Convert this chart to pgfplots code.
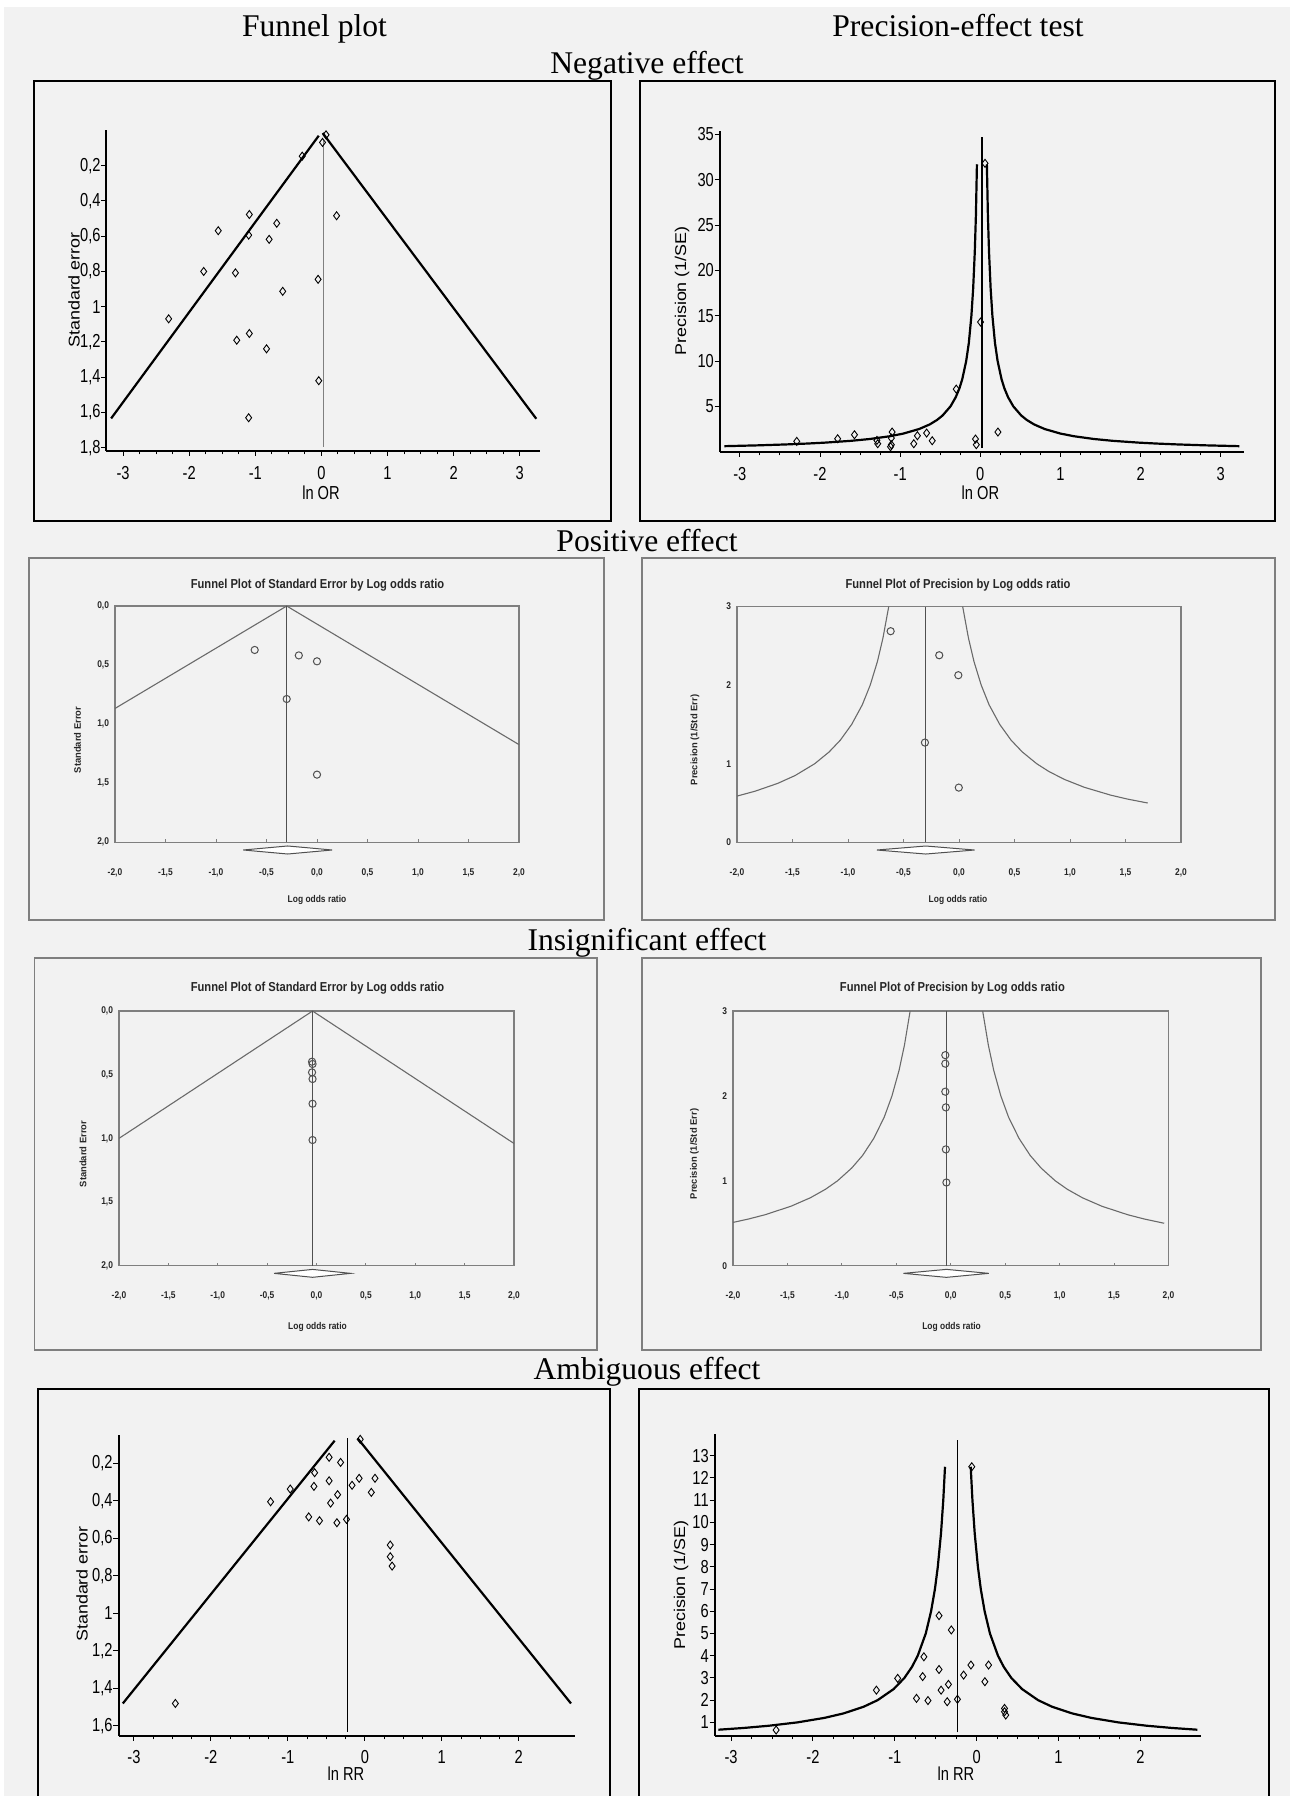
\documentclass[border=0pt]{standalone}
\usepackage{fontspec}
\setmainfont{Liberation Serif}
\newfontfamily\tickfont[FakeStretch=0.78]{Liberation Sans}
\newfontfamily\ylabfont[FakeStretch=1.15]{Liberation Sans}
\newfontfamily\cmafont[FakeStretch=0.86]{Liberation Sans}
\newfontfamily\cmaylfont{Liberation Sans}
\usepackage{pgfplots}
\pgfplotsset{compat=1.18}
\definecolor{bg}{HTML}{F2F2F2}
\definecolor{cmagray}{HTML}{7F7F7F}
\definecolor{cmadark}{HTML}{505050}
\definecolor{cmaline}{HTML}{6A6A6A}
\pgfplotsset{
  stata/.style={
    scale only axis, anchor=center, clip=false,
    axis lines=left,
    axis line style={line width=1pt,-},
    tick align=outside,
    major tick length=2.6pt, minor tick length=1.8pt,
    every tick/.append style={black, line width=0.5pt},
    minor x tick num=3,
    ticklabel style={font=\tickfont\fontsize{9.4}{10}\selectfont, inner sep=0pt, text=black},
    xticklabel style={anchor=base},
    yticklabel style={anchor=east, xshift=-0.2pt},
  },
  cma/.style={
    scale only axis, anchor=center, clip=false,
    axis line style={cmagray, line width=0.6pt},
    tick align=inside, tick pos=left,
    major tick length=1.6pt,
    every tick/.append style={cmagray, line width=0.5pt},
    ytick style={draw=none},
    ticklabel style={font=\cmafont\bfseries\fontsize{4.9}{5.5}\selectfont, inner sep=0pt, text=black!85},
    xticklabel style={anchor=base, yshift=-16.5pt},
    yticklabel style={anchor=east, xshift=-2.8pt},
    xmin=-2, xmax=2, xtick={-2,-1.5,-1,-0.5,0,0.5,1,1.5,2},
    xticklabels={{-2,0},{-1,5},{-1,0},{-0,5},{0,0},{0,5},{1,0},{1,5},{2,0}},
  },
  dmark/.style={only marks, mark=diamond, mark size=2pt, mark options={solid, draw=black, fill=none, line width=0.45pt}},
  omark/.style={only marks, mark=o, mark size=1.8pt, mark options={solid, draw=cmadark, fill=none, line width=0.5pt}},
}
\begin{document}
\begin{tikzpicture}
\begin{scope}[x=0.5pt,y=-0.5pt]
\path[use as bounding box] (0,0) rectangle (1290,1796);
\fill[white] (0,0) rectangle (1290,1796);
\fill[bg] (4,7) rectangle (1290,1796);
\draw[line width=1pt] (34,81) rectangle (610.5,521);
\draw[line width=1pt] (640,81) rectangle (1275,521);
\draw[cmagray, line width=0.6pt] (29,558) rectangle (604,920);
\draw[cmagray, line width=0.6pt] (642,558) rectangle (1275,920);
\draw[cmagray, line width=0.6pt] (34.5,958) rectangle (597,1350);
\draw[cmagray, line width=0.6pt] (642,958) rectangle (1261,1350);
\draw[line width=1pt] (38,1800) -- (38,1389) -- (609.5,1389) -- (609.5,1800);
\draw[line width=1pt] (639,1800) -- (639,1389) -- (1269,1389) -- (1269,1800);
\end{scope}

% ---------- Panel 1: Negative, funnel plot ----------
\begin{axis}[stata, at={(161.525pt,-145.275pt)}, width=216.55pt, height=160.15pt,
  xmin=-3.25, xmax=3.30, ymin=-1.817, ymax=0,
  xtick={-3,-2,-1,0,1,2,3}, xticklabels={-3,-2,-1,0,1,2,3},
  xticklabel style={yshift=-11.8pt},
  ytick={-1.8,-1.6,-1.4,-1.2,-1,-0.8,-0.6,-0.4,-0.2},
  yticklabels={{1,8},{1,6},{1,4},{1,2},1,{0,8},{0,6},{0,4},{0,2}}]
\addplot[gray, line width=0.6pt] coordinates {(0.034,-0.055) (0.034,-1.795)};
\addplot[black, line width=1.1pt] coordinates {(-3.18,-1.634) (-0.04,-0.03)};
\addplot[black, line width=1.1pt] coordinates {(0.02,-0.015) (3.25,-1.636)};
\addplot[dmark] coordinates {
(0.07,-0.025) (0.017,-0.068) (-0.29,-0.146) (-1.09,-0.477) (0.23,-0.484)
(-0.675,-0.527) (-1.56,-0.569) (-1.10,-0.594) (-0.79,-0.618) (-1.78,-0.80)
(-1.30,-0.808) (-0.05,-0.845) (-0.585,-0.913) (-2.31,-1.069) (-1.09,-1.152)
(-1.28,-1.19) (-0.83,-1.239) (-0.04,-1.42) (-1.10,-1.63)};
\end{axis}

% ---------- Panel 2: Negative, precision ----------
\begin{axis}[stata, at={(490.95pt,-145.6pt)}, width=262.1pt, height=160.5pt,
  xmin=-3.25, xmax=3.29, ymin=0, ymax=35.4,
  xtick={-3,-2,-1,0,1,2,3}, xticklabels={-3,-2,-1,0,1,2,3},
  xticklabel style={yshift=-11.8pt},
  ytick={5,10,15,20,25,30,35}, yticklabels={5,10,15,20,25,30,35}]
\addplot[black, line width=0.6pt] coordinates {(0.02,0.4) (0.02,34.7)};
\addplot[black, line width=1.1pt] coordinates {
(-3.193,0.61) (-2.78,0.7) (-2.43,0.8) (-2.158,0.9) (-1.94,1.0) (-1.613,1.2) (-1.38,1.4)
(-1.133,1.7) (-0.96,2) (-0.764,2.5) (-0.633,3) (-0.54,3.5) (-0.47,4) (-0.372,5) (-0.307,6)
(-0.26,7) (-0.225,8) (-0.176,10) (-0.143,12) (-0.111,15) (-0.089,18) (-0.069,22) (-0.055,26) (-0.042,31.7)};
\addplot[black, line width=1.1pt] coordinates {
(3.233,0.61) (2.82,0.7) (2.47,0.8) (2.198,0.9) (1.98,1.0) (1.653,1.2) (1.42,1.4)
(1.173,1.7) (1.0,2) (0.804,2.5) (0.673,3) (0.58,3.5) (0.51,4) (0.412,5) (0.347,6)
(0.30,7) (0.265,8) (0.216,10) (0.183,12) (0.151,15) (0.129,18) (0.109,22) (0.095,26) (0.082,31.7)};
\addplot[dmark] coordinates {
(0.059,31.8) (0.003,14.3) (-0.30,6.9) (-2.29,1.14) (-1.78,1.43) (-1.57,1.87) (-1.29,1.25)
(-1.28,0.88) (-1.10,2.17) (-1.11,1.5) (-1.11,0.77) (-1.12,0.55) (-0.83,0.88) (-0.785,1.76)
(-0.67,2.06) (-0.60,1.21) (-0.06,1.4) (-0.05,0.77) (0.22,2.17)};
\end{axis}

% ---------- Panel 3: Positive, funnel SE ----------
\begin{axis}[cma, at={(158.5pt,-362.075pt)}, width=202pt, height=118.15pt,
  ymin=-2, ymax=0, ytick={-2,-1.5,-1,-0.5,0},
  yticklabels={{2,0},{1,5},{1,0},{0,5},{0,0}}]
\addplot[cmaline, line width=0.55pt] coordinates {(-2,-0.867) (-0.3,0) (2,-1.173)};
\addplot[cmadark, line width=0.6pt] coordinates {(-0.3,0) (-0.3,-2)};
\addplot[draw=cmadark, fill=white, line width=0.5pt] coordinates {(-0.73,-2.065) (-0.29,-2.031) (0.15,-2.065) (-0.29,-2.099) (-0.73,-2.065)};
\addplot[omark] coordinates {(-0.617,-0.372) (-0.18,-0.418) (0.0,-0.468) (-0.30,-0.787) (0.0,-1.427)};
\end{axis}

% ---------- Panel 4: Positive, precision ----------
\begin{axis}[cma, at={(479.5pt,-362.2pt)}, width=222pt, height=117.9pt,
  ymin=0, ymax=3, ytick={0,1,2,3}, yticklabels={0,1,2,3}]
\addplot[cmadark, line width=0.6pt] coordinates {(-0.3,0) (-0.3,3)};
\addplot[cmaline, line width=0.55pt] coordinates {
(-2.0,0.588) (-1.838,0.65) (-1.633,0.75) (-1.476,0.85) (-1.3,1.0) (-1.17,1.15) (-1.069,1.3)
(-0.967,1.5) (-0.871,1.75) (-0.8,2.0) (-0.735,2.3) (-0.685,2.6) (-0.633,3.0)};
\addplot[cmaline, line width=0.55pt] coordinates {
(1.7,0.5) (1.518,0.55) (1.367,0.6) (1.129,0.7) (0.95,0.8) (0.811,0.9) (0.7,1.0) (0.57,1.15)
(0.469,1.3) (0.367,1.5) (0.271,1.75) (0.2,2.0) (0.135,2.3) (0.085,2.6) (0.033,3.0)};
\addplot[draw=cmadark, fill=white, line width=0.5pt] coordinates {(-0.74,-0.098) (-0.30,-0.047) (0.14,-0.098) (-0.30,-0.149) (-0.74,-0.098)};
\addplot[omark] coordinates {(-0.616,2.686) (-0.178,2.38) (-0.006,2.126) (-0.307,1.269) (-0.002,0.696)};
\end{axis}

% ---------- Panel 5: Insignificant, funnel SE ----------
\begin{axis}[cma, at={(158.25pt,-569.175pt)}, width=197.5pt, height=127.35pt,
  ymin=-2, ymax=0, ytick={-2,-1.5,-1,-0.5,0},
  yticklabels={{2,0},{1,5},{1,0},{0,5},{0,0}}]
\addplot[cmaline, line width=0.55pt] coordinates {(-2,-1.0) (-0.04,0) (2,-1.04)};
\addplot[cmadark, line width=0.6pt] coordinates {(-0.04,0) (-0.04,-2)};
\addplot[draw=cmadark, fill=white, line width=0.5pt] coordinates {(-0.43,-2.06) (-0.04,-2.029) (0.345,-2.06) (-0.04,-2.091) (-0.43,-2.06)};
\addplot[omark] coordinates {(-0.045,-0.398) (-0.04,-0.416) (-0.045,-0.482) (-0.04,-0.534) (-0.04,-0.728) (-0.04,-1.013)};
\end{axis}

% ---------- Panel 6: Insignificant, precision ----------
\begin{axis}[cma, at={(475.375pt,-569.175pt)}, width=217.75pt, height=127.35pt,
  ymin=0, ymax=3, ytick={0,1,2,3}, yticklabels={0,1,2,3}]
\addplot[cmadark, line width=0.6pt] coordinates {(-0.04,0) (-0.04,3)};
\addplot[cmaline, line width=0.55pt] coordinates {
(-2.0,0.51) (-1.858,0.55) (-1.707,0.6) (-1.469,0.7) (-1.29,0.8) (-1.151,0.9) (-1.04,1.0)
(-0.91,1.15) (-0.809,1.3) (-0.707,1.5) (-0.611,1.75) (-0.54,2.0) (-0.475,2.3) (-0.425,2.6) (-0.373,3.0)};
\addplot[cmaline, line width=0.55pt] coordinates {
(1.96,0.5) (1.778,0.55) (1.627,0.6) (1.389,0.7) (1.21,0.8) (1.071,0.9) (0.96,1.0) (0.83,1.15)
(0.729,1.3) (0.627,1.5) (0.531,1.75) (0.46,2.0) (0.395,2.3) (0.345,2.6) (0.293,3.0)};
\addplot[draw=cmadark, fill=white, line width=0.5pt] coordinates {(-0.434,-0.09) (-0.04,-0.043) (0.349,-0.09) (-0.04,-0.137) (-0.434,-0.09)};
\addplot[omark] coordinates {(-0.05,2.48) (-0.05,2.38) (-0.05,2.05) (-0.045,1.865) (-0.045,1.37) (-0.04,0.98)};
\end{axis}

% ---------- Panel 7: Ambiguous, funnel ----------
\begin{axis}[stata, at={(173.375pt,-792.675pt)}, width=228.25pt, height=150.35pt,
  xmin=-3.2, xmax=2.73, ymin=-1.653, ymax=-0.049,
  xtick={-3,-2,-1,0,1,2}, xticklabels={-3,-2,-1,0,1,2},
  xticklabel style={yshift=-11.2pt},
  ytick={-1.6,-1.4,-1.2,-1,-0.8,-0.6,-0.4,-0.2},
  yticklabels={{1,6},{1,4},{1,2},1,{0,8},{0,6},{0,4},{0,2}}]
\addplot[black, line width=0.6pt] coordinates {(-0.228,-0.067) (-0.228,-1.632)};
\addplot[black, line width=1.1pt] coordinates {(-3.144,-1.481) (-0.392,-0.079)};
\addplot[black, line width=1.1pt] coordinates {(-0.093,-0.067) (2.678,-1.481)};
\addplot[dmark] coordinates {
(-0.06,-0.072) (-0.464,-0.168) (-0.315,-0.195) (-0.652,-0.25) (-0.464,-0.293) (-0.074,-0.28)
(0.132,-0.28) (-0.969,-0.337) (-0.661,-0.323) (-0.166,-0.317) (-0.354,-0.367) (0.084,-0.355)
(-1.224,-0.405) (-0.445,-0.412) (-0.729,-0.486) (-0.589,-0.506) (-0.363,-0.517) (-0.238,-0.499)
(0.33,-0.636) (0.33,-0.698) (0.354,-0.748) (-2.461,-1.481)};
\end{axis}

% ---------- Panel 8: Ambiguous, precision ----------
\begin{axis}[stata, at={(478.825pt,-792.5pt)}, width=242.95pt, height=150.7pt,
  xmin=-3.2, xmax=2.735, ymin=0.4, ymax=13.96,
  xtick={-3,-2,-1,0,1,2}, xticklabels={-3,-2,-1,0,1,2},
  xticklabel style={yshift=-11.2pt},
  ytick={1,2,3,4,5,6,7,8,9,10,11,12,13}, yticklabels={1,2,3,4,5,6,7,8,9,10,11,12,13}]
\addplot[black, line width=0.6pt] coordinates {(-0.235,0.55) (-0.235,13.7)};
\addplot[black, line width=1.1pt] coordinates {
(-3.155,0.67) (-2.843,0.75) (-2.536,0.85) (-2.19,1.0) (-1.863,1.2) (-1.63,1.4) (-1.383,1.7)
(-1.21,2.0) (-1.014,2.5) (-0.883,3.0) (-0.79,3.5) (-0.72,4.0) (-0.622,5.0) (-0.557,6.0)
(-0.51,7.0) (-0.475,8.0) (-0.436,9.5) (-0.408,11) (-0.387,12.5)};
\addplot[black, line width=1.1pt] coordinates {
(2.695,0.67) (2.383,0.75) (2.076,0.85) (1.73,1.0) (1.403,1.2) (1.17,1.4) (0.923,1.7)
(0.75,2.0) (0.554,2.5) (0.423,3.0) (0.33,3.5) (0.26,4.0) (0.162,5.0) (0.097,6.0)
(0.05,7.0) (0.015,8.0) (-0.024,9.5) (-0.052,11) (-0.073,12.5)};
\addplot[dmark] coordinates {
(-0.06,12.5) (-0.46,5.80) (-0.31,5.16) (-0.645,3.95) (-0.46,3.38) (-0.07,3.58) (0.145,3.58)
(-0.965,2.98) (-0.66,3.06) (-0.16,3.13) (-0.345,2.71) (0.10,2.83) (-1.225,2.45) (-0.435,2.45)
(-0.735,2.08) (-0.595,1.98) (-0.36,1.93) (-0.235,2.04) (0.34,1.63) (0.34,1.48) (0.355,1.33)
(-2.45,0.655)};
\end{axis}

\begin{scope}[x=0.5pt,y=-0.5pt]
\begin{scope}[font=\fontsize{15.8}{18}\selectfont]
\node[anchor=base] at (314.5,36) {Funnel plot};
\node[anchor=base] at (958,36) {Precision-effect test};
\node[anchor=base] at (647,73.5) {Negative effect};
\node[anchor=base] at (647,551) {Positive effect};
\node[anchor=base] at (647,950) {Insignificant effect};
\node[anchor=base] at (647,1379) {Ambiguous effect};
\end{scope}
\begin{scope}[font=\ylabfont\fontsize{7.8}{9}\selectfont]
\node[rotate=90] at (74,290) {Standard error};
\node[rotate=90] at (682,291) {Precision (1/SE)};
\node[rotate=90] at (82,1584) {Standard error};
\node[rotate=90] at (681,1585) {Precision (1/SE)};
\end{scope}
\begin{scope}[font=\tickfont\fontsize{9.4}{10}\selectfont]
\node[anchor=base] at (321,499) {ln OR};
\node[anchor=base] at (980.4,499) {ln OR};
\node[anchor=base] at (346,1780) {ln RR};
\node[anchor=base] at (956,1780) {ln RR};
\end{scope}
\begin{scope}[font=\cmafont\bfseries\fontsize{6.5}{7}\selectfont, text=black!85]
\node[anchor=base] at (317.5,588) {Funnel Plot of Standard Error by Log odds ratio};
\node[anchor=base] at (958,588) {Funnel Plot of Precision by Log odds ratio};
\node[anchor=base] at (317.5,991.7) {Funnel Plot of Standard Error by Log odds ratio};
\node[anchor=base] at (952.4,991.7) {Funnel Plot of Precision by Log odds ratio};
\end{scope}
\begin{scope}[font=\cmafont\bfseries\fontsize{4.9}{5.5}\selectfont, text=black!85]
\node[anchor=base] at (317,902) {Log odds ratio};
\node[anchor=base] at (958,902) {Log odds ratio};
\node[anchor=base] at (317.5,1329.7) {Log odds ratio};
\node[anchor=base] at (951.6,1329.7) {Log odds ratio};
\end{scope}
\begin{scope}[font=\cmaylfont\bfseries\fontsize{4.7}{5.5}\selectfont, text=black!85]
\node[rotate=90] at (77.5,740) {Standard Error};
\node[rotate=90] at (695,740) {Precision (1/Std Err)};
\node[rotate=90] at (83,1154) {Standard Error};
\node[rotate=90] at (694.4,1154) {Precision (1/Std Err)};
\end{scope}
\end{scope}
\end{tikzpicture}
\end{document}
